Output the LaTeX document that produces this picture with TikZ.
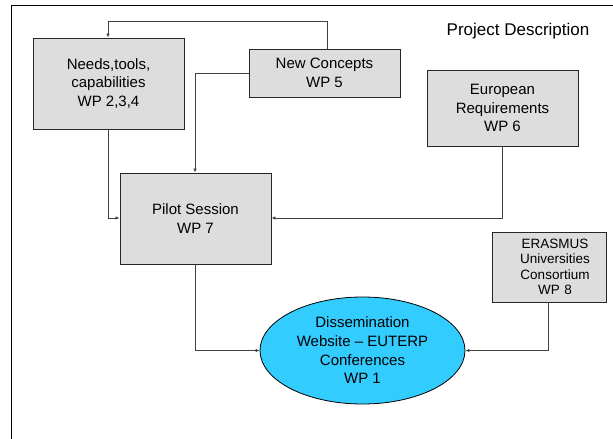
\documentclass[tikz,border=0pt]{standalone}
\usepackage{fontspec}
\setmainfont{Liberation Sans}
\usetikzlibrary{arrows.meta,shapes.geometric}
\definecolor{boxgray}{HTML}{DDDDDD}
\definecolor{linegray}{HTML}{404040}
\definecolor{sky}{HTML}{33CCFF}
\tikzset{
  wpbox/.style={draw=black!85, line width=0.9pt, fill=boxgray, align=center, inner sep=0pt,
    font=\fontsize{15}{18.5}\selectfont},
  conn/.style={draw=linegray, line width=0.8pt, -{Latex[length=4pt,width=3.5pt]}},
}
\begin{document}
\begin{tikzpicture}[x=1pt,y=-1pt]
\useasboundingbox (0,0) rectangle (613,439);
% outer frame
\draw[black, line width=0.9pt] (11,439) -- (11,5) -- (613,5);
\node[font=\fontsize{17}{20}\selectfont] (title) at (518,31) {Project Description};

\node[wpbox, minimum width=151pt, minimum height=91pt] (needs) at (108.5,83.5)
  {Needs,tools,\\capabilities\\WP 2,3,4};
\node[wpbox, minimum width=151pt, minimum height=48pt] (concepts) at (324.5,73)
  {New Concepts\\WP 5};
\node[wpbox, minimum width=151pt, minimum height=91pt] (pilot) at (195.5,218.5)
  {Pilot Session\\WP 7};
\node[wpbox, minimum width=151pt, minimum height=76pt] (euro) at (502.5,108)
  {European\\Requirements\\WP 6};
\node[wpbox, minimum width=114pt, minimum height=70pt, text width=114pt,
  font=\fontsize{13.5}{15.5}\selectfont] (erasmus) at (549,267)
  {\hspace*{12pt}ERASMUS\\\hspace*{12pt}Universities\\\hspace*{12pt}Consortium\\\hspace*{12pt}WP 8};
\node[ellipse, draw=black, line width=0.8pt, fill=sky, minimum width=205pt, minimum height=107pt,
  inner sep=0pt, align=center, font=\fontsize{15}{18.7}\selectfont] (diss) at (362.5,350.5)
  {Dissemination\\Website -- EUTERP\\Conferences\\WP 1};

\coordinate (c1) at (327,21);
\coordinate (c2) at (108,21);
\draw[conn] (concepts.north -| c1) -- (c1) -- (c2) -- (needs.north -| c2);
\coordinate (c3) at (195,73);
\draw[conn] (concepts.west) -- (c3) -- (pilot.north -| c3);
\coordinate (c4) at (108,218);
\draw[conn] (needs.south -| c4) -- (c4) -- (pilot.west |- c4);
\coordinate (c5) at (502,218);
\draw[conn] (euro.south -| c5) -- (c5) -- (pilot.east |- c5);
\coordinate (c6) at (195,350.5);
\draw[conn] (pilot.south -| c6) -- (c6) -- (diss.west);
\coordinate (c7) at (548,350.5);
\draw[conn] (erasmus.south -| c7) -- (c7) -- (diss.east);
\end{tikzpicture}
\end{document}
